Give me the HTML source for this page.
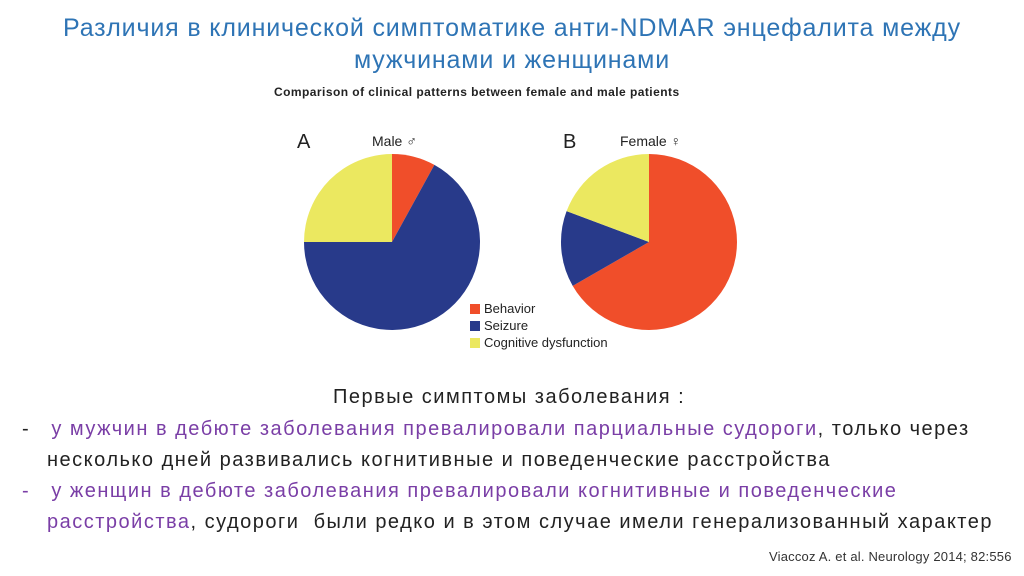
<!DOCTYPE html>
<html><head><meta charset="utf-8"><style>
body{margin:0;width:1024px;height:576px;background:#fff;font-family:"Liberation Sans",sans-serif;position:relative;overflow:hidden}
.t{position:absolute;white-space:nowrap}
#title{left:0;width:1024px;text-align:center;top:12px;font-size:25px;line-height:32px;color:#2e74b5;letter-spacing:0.85px}
.body{font-size:20px;color:#222;line-height:31px;letter-spacing:1.5px}
.p{color:#7a3ea6}
</style></head><body>
<div id="title" class="t">Различия в клинической симптоматике анти-NDMAR энцефалита между<br>мужчинами и женщинами</div>
<svg width="1024" height="576" style="position:absolute;left:0;top:0">
<text x="274" y="96" font-size="12" font-weight="bold" fill="#222" letter-spacing="0.45">Comparison of clinical patterns between female and male patients</text>
<text x="297" y="148" font-size="20" fill="#222">A</text>
<text x="372" y="146" font-size="14" fill="#222">Male ♂</text>
<text x="563" y="148" font-size="20" fill="#222">B</text>
<text x="620" y="146" font-size="14" fill="#222">Female ♀</text>
<g id="pies"></g>
<g>
<rect x="470" y="304" width="10" height="10" fill="#f04e2a"/><text x="484" y="313" font-size="13" fill="#222">Behavior</text>
<rect x="470" y="321" width="10" height="10" fill="#283a8a"/><text x="484" y="330" font-size="13" fill="#222">Seizure</text>
<rect x="470" y="338" width="10" height="10" fill="#ebe860"/><text x="484" y="347" font-size="13" fill="#222">Cognitive dysfunction</text>
</g>
</svg>
<div class="t body" style="left:333px;top:382px">Первые симптомы заболевания :</div>
<div class="t body" style="left:22px;top:414px">-&nbsp;&nbsp; <span class="p">у мужчин в дебюте заболевания превалировали парциальные судороги</span>, только через</div>
<div class="t body" style="left:47px;top:445px">несколько дней развивались когнитивные и поведенческие расстройства</div>
<div class="t body" style="left:22px;top:476px"><span class="p">-&nbsp;&nbsp; у женщин в дебюте заболевания превалировали когнитивные и поведенческие</span></div>
<div class="t body" style="left:47px;top:507px"><span class="p">расстройства</span>, судороги&nbsp; были редко и в этом случае имели генерализованный характер</div>
<div class="t" style="left:769px;top:549px;font-size:13px;color:#333;letter-spacing:0.2px">Viaccoz A. et al. Neurology 2014; 82:556</div>
<script>
const categories=["Behavior","Seizure","Cognitive dysfunction"];
const maleValues=[8,67,25];
const femaleValues=[66.7,14,19.3];
const colors=["#f04e2a","#283a8a","#ebe860"];
function drawPie(vals,cx,cy,r,name){
  const g=document.getElementById('pies');
  const tot=vals.reduce((a,b)=>a+b,0);let a0=0;
  vals.forEach((v,i)=>{
    const a1=a0+v/tot*2*Math.PI;
    const x0=cx+r*Math.sin(a0),y0=cy-r*Math.cos(a0),x1=cx+r*Math.sin(a1),y1=cy-r*Math.cos(a1);
    const p=document.createElementNS('http://www.w3.org/2000/svg','path');
    p.setAttribute('d',`M${cx},${cy}L${x0},${y0}A${r},${r} 0 ${a1-a0>Math.PI?1:0} 1 ${x1},${y1}Z`);
    p.setAttribute('fill',colors[i]);
    
    
    g.appendChild(p);a0=a1;
  });
}
drawPie(maleValues,392,242,88,'male');
drawPie(femaleValues,649,242,88,'female');
</script>
</body></html>
